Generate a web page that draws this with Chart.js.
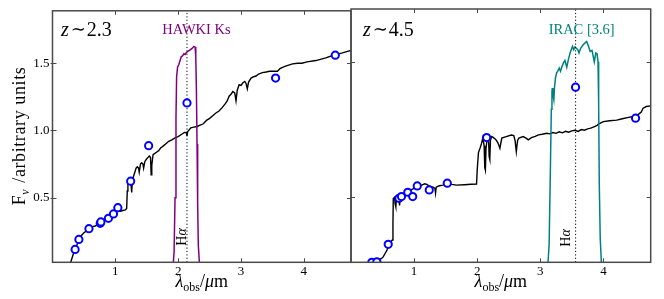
<!DOCTYPE html>
<html><head><meta charset="utf-8">
<script src="https://cdn.jsdelivr.net/npm/chart.js@4"></script>
<style>
html,body{margin:0;padding:0;background:#fff;overflow:hidden}
#wrap{position:relative;width:664px;height:299px}
canvas{position:absolute;top:0}
</style></head>
<body><div id="wrap">
<canvas id="cl" width="352" height="299" style="left:0"></canvas>
<canvas id="cr" width="314" height="299" style="left:350px"></canvas>
</div>
<script>
// ---------- DATA ----------
const xTicks = [1, 2, 3, 4];
const xTickLabels = ['1', '2', '3', '4'];
const yTicks = [0.5, 1.0, 1.5];
const yTickLabels = ['0.5', '1.0', '1.5'];

// Left panel (z~2.3)
const sedLeftLam = [0.29,0.31,0.33,0.35,0.38,0.41,0.44,0.47,0.50,0.53,0.56,0.60,0.64,0.68,0.72,0.76,0.80,0.84,0.88,0.92,0.96,1.00,1.04,1.08,1.12,1.16,1.18,1.19,1.20,1.23,1.25,1.26,1.27,1.29,1.31,1.33,1.35,1.37,1.38,1.40,1.42,1.44,1.45,1.47,1.50,1.52,1.54,1.56,1.57,1.58,1.60,1.63,1.66,1.69,1.72,1.75,1.80,1.85,1.90,1.95,2.00,2.05,2.10,2.13,2.14,2.15,2.20,2.25,2.30,2.35,2.40,2.45,2.50,2.55,2.60,2.65,2.70,2.75,2.78,2.81,2.84,2.87,2.90,2.92,2.94,2.97,3.00,3.03,3.06,3.08,3.10,3.12,3.16,3.20,3.24,3.28,3.34,3.40,3.45,3.50,3.58,3.62,3.66,3.72,3.82,3.90,3.97,4.05,4.19,4.35,4.50,4.60,4.71,4.75];
const sedLeftFlux = [0.02,0.05,0.08,0.11,0.14,0.175,0.205,0.225,0.24,0.25,0.265,0.275,0.285,0.29,0.30,0.31,0.32,0.335,0.345,0.36,0.375,0.39,0.40,0.40,0.405,0.41,0.42,0.55,0.61,0.62,0.60,0.54,0.62,0.66,0.69,0.72,0.73,0.72,0.69,0.75,0.76,0.75,0.72,0.77,0.79,0.80,0.81,0.80,0.67,0.74,0.82,0.83,0.84,0.85,0.87,0.88,0.90,0.92,0.93,0.945,0.955,0.97,0.985,0.985,0.96,0.99,1.02,1.025,1.03,1.04,1.05,1.075,1.09,1.11,1.13,1.145,1.17,1.20,1.22,1.255,1.27,1.29,1.28,1.22,1.30,1.34,1.335,1.355,1.365,1.35,1.31,1.36,1.39,1.40,1.405,1.42,1.43,1.435,1.44,1.44,1.44,1.46,1.47,1.48,1.495,1.50,1.50,1.51,1.52,1.54,1.565,1.575,1.59,1.595];
const photLeftLam = [0.36,0.42,0.58,0.76,0.77,0.89,0.97,1.04,1.244,1.53,2.14,3.55,4.50];
const photLeftFlux = [0.116,0.19,0.27,0.31,0.32,0.347,0.38,0.426,0.623,0.887,1.205,1.39,1.56];
const filterLeftLam = [1.92,1.935,1.95,1.965,1.975,1.99,2.01,2.03,2.05,2.07,2.09,2.11,2.13,2.16,2.19,2.22,2.25,2.27,2.28,2.29,2.30,2.31,2.32,2.34];
const filterLeftTrans = [0,0.1,0.5,1.1,1.40,1.47,1.49,1.52,1.55,1.555,1.57,1.565,1.58,1.59,1.60,1.61,1.625,1.62,1.55,1.30,0.90,0.45,0.15,0];
const halphaLeft = 2.14;

// Right panel (z~4.5)
const sedRightLam = [0.30,0.35,0.40,0.45,0.49,0.51,0.54,0.57,0.60,0.63,0.655,0.665,0.67,0.69,0.70,0.71,0.72,0.74,0.76,0.77,0.78,0.82,0.85,0.88,0.95,1.01,1.07,1.12,1.17,1.20,1.25,1.30,1.33,1.34,1.35,1.40,1.46,1.54,1.60,1.67,1.80,1.90,1.99,2.00,2.02,2.05,2.07,2.09,2.11,2.12,2.13,2.14,2.16,2.18,2.19,2.20,2.21,2.23,2.26,2.30,2.33,2.36,2.39,2.46,2.54,2.58,2.60,2.62,2.64,2.66,2.73,2.78,2.81,2.86,2.92,2.97,3.03,3.10,3.15,3.20,3.25,3.30,3.35,3.40,3.45,3.50,3.55,3.60,3.65,3.70,3.75,3.80,3.85,3.90,3.92,4.00,4.10,4.21,4.30,4.40,4.47,4.55,4.60,4.63,4.68,4.75];
const sedRightFlux = [0.0,0.022,0.03,0.04,0.05,0.06,0.085,0.11,0.145,0.17,0.185,0.30,0.49,0.50,0.45,0.43,0.49,0.50,0.48,0.44,0.50,0.51,0.52,0.54,0.555,0.567,0.58,0.59,0.60,0.595,0.58,0.575,0.565,0.53,0.575,0.585,0.59,0.60,0.595,0.59,0.593,0.596,0.598,0.70,0.83,0.87,0.90,0.94,0.88,0.72,0.70,0.86,0.94,0.93,0.80,0.78,0.92,0.948,0.94,0.924,0.90,0.862,0.937,0.948,0.96,0.955,0.92,0.837,0.92,0.937,0.948,0.935,0.924,0.94,0.95,0.961,0.965,0.973,0.968,0.978,0.972,0.983,0.976,0.987,0.98,0.99,0.995,0.986,1.0,0.995,1.005,1.01,1.02,1.03,1.04,1.059,1.065,1.07,1.08,1.09,1.096,1.11,1.13,1.158,1.17,1.175];
const photRightLam = [0.33,0.41,0.59,0.76,0.80,0.90,0.978,1.05,1.24,1.526,2.15,3.559,4.51];
const photRightFlux = [0.02,0.024,0.153,0.493,0.505,0.537,0.505,0.584,0.554,0.604,0.941,1.313,1.084];
const filterRightLam = [3.12,3.14,3.16,3.175,3.185,3.19,3.20,3.215,3.225,3.24,3.26,3.275,3.30,3.32,3.34,3.365,3.39,3.42,3.45,3.48,3.51,3.53,3.55,3.57,3.595,3.614,3.64,3.68,3.71,3.735,3.76,3.79,3.82,3.856,3.88,3.90,3.915,3.925,3.935,3.95,3.97];
const filterRightTrans = [0,0.15,0.7,1.15,1.28,1.306,1.26,1.22,1.31,1.38,1.42,1.43,1.454,1.43,1.46,1.49,1.51,1.46,1.527,1.577,1.614,1.59,1.61,1.60,1.59,1.565,1.60,1.626,1.64,1.65,1.62,1.577,1.585,1.50,1.565,1.56,1.50,1.2,0.6,0.2,0];
const halphaRight = 3.56;

const X_MIN = 0, X_MAX = 4.75, Y_MIN = 0.02, Y_MAX = 1.89;

// ---------- HELPERS ----------
const SERIF = '"Liberation Serif", "DejaVu Serif", serif';
const zip = (a, b) => a.map((v, i) => ({x: v, y: b[i]}));

function drawRich(ctx, parts, x, y, align) {
  let total = 0;
  parts.forEach(p => { ctx.font = p.font; p.w = ctx.measureText(p.t).width + (p.gap || 0); total += p.w; });
  let cx = align === 'center' ? x - total / 2 : (align === 'right' ? x - total : x);
  ctx.textAlign = 'left';
  ctx.textBaseline = 'alphabetic';
  parts.forEach(p => { ctx.font = p.font; ctx.fillText(p.t, cx, y + (p.dy || 0)); cx += p.w; });
}

function makePanel(canvasId, cfg) {
  const framePlugin = {
    id: 'frame_' + canvasId,
    afterDraw(chart) {
      const ctx = chart.ctx, a = chart.chartArea;
      const sx = chart.scales.x, sy = chart.scales.y;
      ctx.save();
      ctx.strokeStyle = '#4a4a4a';
      ctx.lineWidth = 1.5;
      ctx.strokeRect(a.left, a.top, a.right - a.left, a.bottom - a.top);
      ctx.lineWidth = 1;
      ctx.beginPath();
      xTicks.forEach(v => {
        const px = Math.round(sx.getPixelForValue(v)) + 0.5;
        ctx.moveTo(px, a.bottom); ctx.lineTo(px, a.bottom - 4);
        ctx.moveTo(px, a.top); ctx.lineTo(px, a.top + 4);
      });
      yTicks.forEach(v => {
        const py = Math.round(sy.getPixelForValue(v)) + 0.5;
        ctx.moveTo(a.left - (cfg.left ? 2 : 0), py); ctx.lineTo(a.left + 4, py);
        ctx.moveTo(a.right, py); ctx.lineTo(a.right - 4, py);
      });
      ctx.stroke();

      // texts
      ctx.fillStyle = '#000';
      drawRich(ctx, [
        {t: 'z', font: 'italic 20px ' + SERIF, gap: 2},
        {t: '\u223C', font: '18px "DejaVu Serif", serif', gap: 1, dy: -1},
        {t: cfg.zText, font: '20px ' + SERIF}
      ], cfg.zX, 36, 'left');
      ctx.fillStyle = cfg.filterColor;
      ctx.font = '14.5px ' + SERIF;
      ctx.textAlign = 'center';
      ctx.textBaseline = 'alphabetic';
      ctx.fillText(cfg.filterName, sx.getPixelForValue(cfg.filterLabelX), 33.5);
      ctx.fillStyle = '#000';
      ctx.save();
      ctx.translate(sx.getPixelForValue(cfg.halpha) + cfg.haOff, cfg.haY);
      ctx.rotate(-Math.PI / 2);
      drawRich(ctx, [
        {t: 'H', font: '14px ' + SERIF},
        {t: '\u03B1', font: 'italic 14px ' + SERIF}
      ], 0, 0, 'center');
      ctx.restore();
      const xc = (a.left + a.right) / 2;
      drawRich(ctx, [
        {t: '\u03BB', font: 'italic 18px ' + SERIF},
        {t: 'obs', font: '12px ' + SERIF, dy: 4},
        {t: '/', font: '18px ' + SERIF},
        {t: '\u03BC', font: 'italic 18px ' + SERIF},
        {t: 'm', font: '18px ' + SERIF}
      ], xc, 287, 'center');
      if (cfg.left) {
        ctx.save();
        ctx.translate(25, 136);
        ctx.rotate(-Math.PI / 2);
        ctx.letterSpacing = '0.6px';
        drawRich(ctx, [
          {t: 'F', font: '18px ' + SERIF},
          {t: '\u03BD', font: 'italic 12px ' + SERIF, dy: 4, gap: 1},
          {t: ' /arbitrary units', font: '18px ' + SERIF}
        ], 0, 0, 'center');
        ctx.restore();
      }
      ctx.restore();
    }
  };

  const lineBase = {type: 'line', pointRadius: 0, tension: 0, fill: false, clip: 0};
  return new Chart(document.getElementById(canvasId), {
    type: 'line',
    data: {
      datasets: [
        {type: 'scatter', data: zip(cfg.photLam, cfg.photFlux), showLine: false, pointRadius: 3.6,
         pointBorderWidth: 2, pointBorderColor: '#0000ff', pointBackgroundColor: '#ffffff', clip: 0},
        Object.assign({}, lineBase, {data: [{x: cfg.halpha, y: Y_MIN}, {x: cfg.halpha, y: Y_MAX}],
          borderColor: '#000', borderWidth: 1, borderDash: [1.2, 2.2]}),
        Object.assign({}, lineBase, {data: zip(cfg.filtLam, cfg.filtTrans), borderColor: cfg.filterColor, borderWidth: 1.5}),
        Object.assign({}, lineBase, {data: zip(cfg.sedLam, cfg.sedFlux), borderColor: '#000', borderWidth: 1.4})
      ]
    },
    options: {
      responsive: false,
      animation: false,
      events: [],
      layout: {padding: cfg.padding, autoPadding: false},
      plugins: {legend: {display: false}, tooltip: {enabled: false}},
      scales: {
        x: {
          type: 'linear', min: X_MIN, max: X_MAX,
          afterBuildTicks: s => { s.ticks = xTicks.map(v => ({value: v})); },
          ticks: {callback: (v) => xTickLabels[xTicks.indexOf(v)] ?? '', font: {family: SERIF, size: 13},
                  color: '#000', padding: 1, maxRotation: 0, autoSkip: false},
          grid: {display: false, drawTicks: false},
          border: {display: false},
          afterFit: s => { s.height = 36.7; }
        },
        y: {
          type: 'linear', min: Y_MIN, max: Y_MAX,
          afterBuildTicks: s => { s.ticks = yTicks.map(v => ({value: v})); },
          ticks: {display: cfg.left, callback: (v) => yTickLabels[yTicks.indexOf(v)] ?? '',
                  font: {family: SERIF, size: 13}, color: '#000', padding: 3},
          grid: {display: false, drawTicks: false},
          border: {display: false},
          afterFit: s => { s.width = cfg.left ? 52.5 : 0; }
        }
      }
    },
    plugins: [framePlugin]
  });
}

makePanel('cl', {
  left: true, padding: {left: 0, right: 1, top: 9, bottom: 0},
  sedLam: sedLeftLam, sedFlux: sedLeftFlux, photLam: photLeftLam, photFlux: photLeftFlux,
  filtLam: filterLeftLam, filtTrans: filterLeftTrans, filterColor: '#800080',
  filterName: 'HAWKI Ks', filterLabelX: 2.29, halpha: halphaLeft, haOff: -1, haY: 237,
  zText: '2.3', zX: 61
});
makePanel('cr', {
  left: false, padding: {left: 1, right: 13.3, top: 9, bottom: 0},
  sedLam: sedRightLam, sedFlux: sedRightFlux, photLam: photRightLam, photFlux: photRightFlux,
  filtLam: filterRightLam, filtTrans: filterRightTrans, filterColor: '#008080',
  filterName: 'IRAC [3.6]', filterLabelX: 3.656, halpha: halphaRight, haOff: -6, haY: 238,
  zText: '4.5', zX: 13
});
</script>
</body></html>
